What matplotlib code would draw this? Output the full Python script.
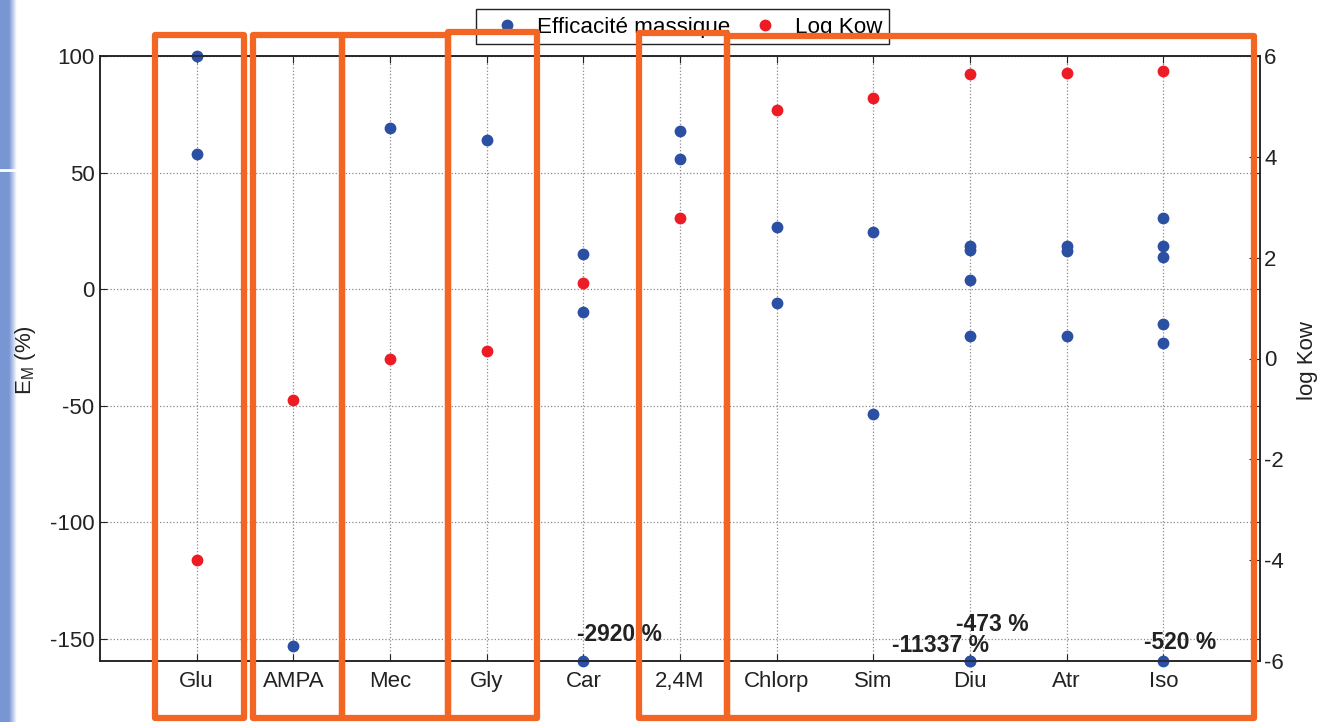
import numpy as np
import matplotlib.pyplot as plt
from matplotlib.patches import Rectangle
from matplotlib.lines import Line2D

plt.rcParams['font.family'] = ['Liberation Sans', 'DejaVu Sans']
plt.rcParams['axes.unicode_minus'] = False

# data
categories = ['Glu', 'AMPA', 'Mec', 'Gly', 'Car', '2,4M', 'Chlorp', 'Sim', 'Diu', 'Atr', 'Iso']
efficacite = [[100, 58], [-153], [69], [64], [15, -10], [68, 56], [26.5, -6],
              [24.5, -53.5], [18.5, 17, 4, -20], [18.5, 16.5, -20], [30.5, 18.5, 14, -15, -23]]
log_kow = [-4.0, -0.82, 0.0, 0.14, 1.5, 2.78, 4.92, 5.17, 5.64, 5.66, 5.7]
# values far below the axis (drawn on the bottom edge, labelled)
hors_cat = ['Car', 'Diu', 'Diu', 'Iso']
hors_val = [-2920, -11337, -473, -520]

# label placement for the off-scale values (category offset, y in %)
hors_dx = [0.37, -0.31, 0.23, 0.17]
hors_y = [-148, -152.7, -143.7, -151.4]

W, H = 1332, 722
fig = plt.figure(figsize=(W / 100, H / 100), dpi=100)

def px(x, y):
    return x / W, 1 - y / H

# slide background strip on the left
bg = fig.add_axes([0, 0, 20 / W, 1], zorder=-5)
xs = np.linspace(0, 20, 40)
alpha = np.clip((17 - xs) / 8, 0, 1)
img = np.ones((1, 40, 4))
img[..., 0] = 0.47
img[..., 1] = 0.59
img[..., 2] = 0.83
img[0, :, 3] = alpha
bg.imshow(img, aspect='auto', extent=(0, 20, 0, 1))
bg.plot([0, 15], [1 - 170 / H] * 2, color='white', lw=2)
bg.set_xlim(0, 20)
bg.set_ylim(0, 1)
bg.axis('off')

l, b = px(100, 661)
ax = fig.add_axes([l, b, 1160 / W, 605 / H])
ax2 = ax.twinx()

blue = '#2a4fa3'
red = '#ed1c24'
x = np.arange(1, len(categories) + 1)

for xi, vals in zip(x, efficacite):
    ax.plot([xi] * len(vals), vals, 'o', color=blue, ms=8.5, mew=0, clip_on=False, zorder=3)

ymin = -159.5
for cat, val, dx, yt in zip(hors_cat, hors_val, hors_dx, hors_y):
    xi = categories.index(cat) + 1
    ax.plot(xi, ymin, 'o', color=blue, ms=8.5, mew=0, clip_on=False, zorder=3)
    ax.text(xi + dx, yt, f'{val} %', ha='center', va='center',
            fontsize=16.5, fontweight='bold', color='#222222', zorder=4)

ax2.plot(x, log_kow, 'o', color=red, ms=8.5, mew=0, clip_on=False, zorder=3)

ax.set_xlim(0, 12)
ax.set_ylim(ymin, 100)
ax.set_yticks([-150, -100, -50, 0, 50, 100])
ax.set_xticks(x)
ax.set_xticklabels(categories)
ax.tick_params(axis='x', direction='in', length=5, top=True, pad=7, labelsize=16, colors='#222222')
ax.tick_params(axis='y', direction='in', length=5, right=True, pad=4, labelsize=16, colors='#222222')
ax.grid(True, color='#8a8a8a', linestyle=':', linewidth=0.9)
ax.set_axisbelow(True)

ax2.set_ylim(-6, 6)
ax2.set_yticks([-6, -4, -2, 0, 2, 4, 6])
ax2.tick_params(axis='y', direction='in', length=8, pad=3, labelsize=16, colors='#222222')
for a in (ax, ax2):
    for s in a.spines.values():
        s.set_color('#222222')
        s.set_linewidth(1.1)

fig.text(*px(25, 360), r'E$_\mathregular{M}$ (%)', rotation=90, ha='center', va='center',
         fontsize=16, color='#222222')
fig.text(*px(1307, 360), 'log Kow', rotation=90, ha='center', va='center',
         fontsize=16, color='#222222')

# legend
handles = [Line2D([], [], ls='none', marker='o', color=blue, ms=8.5, mew=0),
           Line2D([], [], ls='none', marker='o', color=red, ms=8.5, mew=0)]
ax2.legend(handles, ['Efficacité massique', 'Log Kow'], ncol=2, frameon=False,
           loc='center left', bbox_to_anchor=px(496, 27), bbox_transform=fig.transFigure,
           fontsize=16.1, borderpad=0, borderaxespad=0, handlelength=1.0,
           handletextpad=0.85, columnspacing=1.05)
fx, fy = px(476, 44)
fig.add_artist(Rectangle((fx, fy), 413 / W, 35 / H, transform=fig.transFigure,
                         fill=False, edgecolor='#222222', lw=1.0, zorder=6))

# orange highlight boxes
boxes = [(155, 35, 244, 718), (253, 35, 342, 718), (342, 35, 448, 718),
         (448, 32, 537, 718), (639, 33, 727, 718), (727, 36, 1254, 718)]
for x0, y0, x1, y1 in boxes:
    bx, by = px(x0, y1)
    fig.add_artist(Rectangle((bx, by), (x1 - x0) / W, (y1 - y0) / H, transform=fig.transFigure,
                             fill=False, edgecolor='#f26522', lw=4.5, joinstyle='round', zorder=10))

fig.savefig('out.png', dpi=100)
